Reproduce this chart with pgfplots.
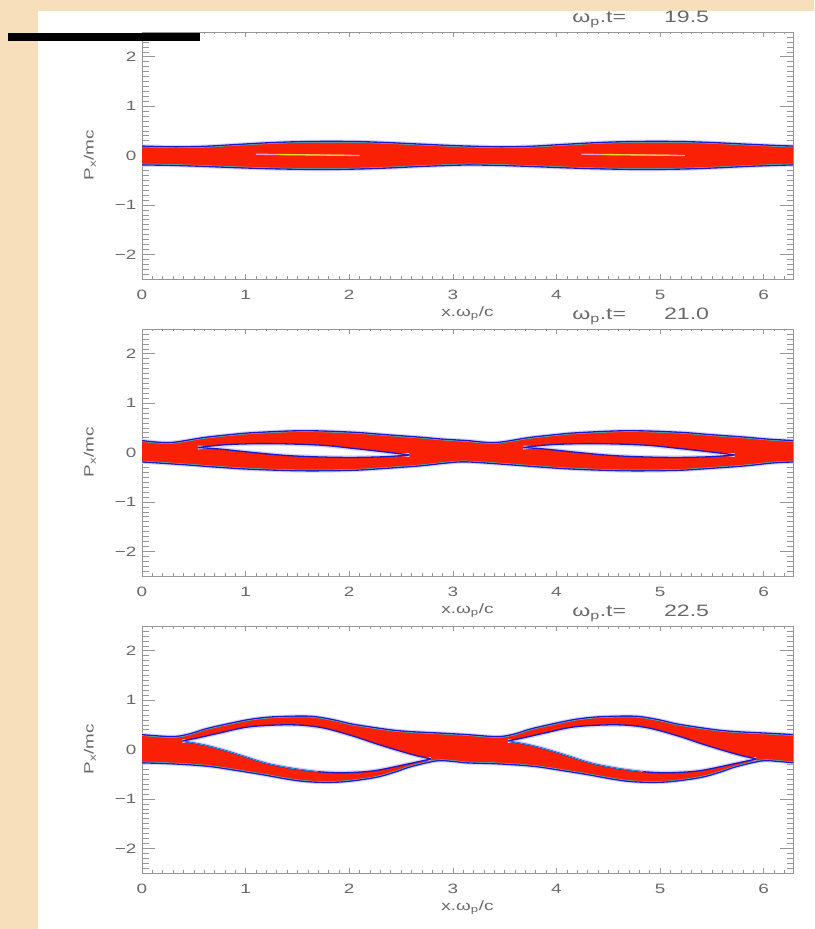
\documentclass[border=0pt]{standalone}
\usepackage{fontspec}
\setmainfont{Liberation Sans}[FakeStretch=1.4]
\usepackage{pgfplots}
\pgfplotsset{compat=1.18}
\usepackage{pgfplotstable}
\usepgfplotslibrary{fillbetween}

\definecolor{bgbeige}{RGB}{246,223,186}
\definecolor{idlred}{RGB}{250,32,5}
\definecolor{idlblue}{RGB}{25,25,205}
\definecolor{idlcyan}{RGB}{40,200,215}
\definecolor{idlhalo}{RGB}{218,208,243}
\definecolor{txtgray}{RGB}{105,105,105}
\definecolor{axgray}{RGB}{150,150,150}

% ---------------- panel 1 (t = 19.5) ----------------
\pgfplotstableread{
x y
0.00 0.190
0.30 0.175
0.60 0.185
0.90 0.220
1.20 0.255
1.50 0.278
1.80 0.285
2.10 0.280
2.40 0.258
2.70 0.228
3.00 0.200
3.14 0.190
3.44 0.175
3.74 0.185
4.04 0.220
4.34 0.255
4.64 0.278
4.94 0.285
5.24 0.280
5.54 0.258
5.84 0.228
6.14 0.200
6.29 0.190
}\UA
\pgfplotstableread{
x y
0.00 -0.190
0.30 -0.200
0.60 -0.220
0.90 -0.245
1.20 -0.265
1.50 -0.278
1.80 -0.282
2.10 -0.272
2.40 -0.250
2.70 -0.220
3.00 -0.198
3.14 -0.190
3.44 -0.200
3.74 -0.220
4.04 -0.245
4.34 -0.265
4.64 -0.278
4.94 -0.282
5.24 -0.272
5.54 -0.250
5.84 -0.220
6.14 -0.198
6.29 -0.190
}\LA

% ---------------- panel 2 (t = 21.0) ----------------
\pgfplotstableread{
x y
0.00 0.24
0.27 0.20
0.59 0.30
0.85 0.36
1.07 0.40
1.55 0.44
2.03 0.41
2.35 0.36
2.68 0.31
2.90 0.27
3.14 0.24
3.41 0.20
3.73 0.30
3.99 0.36
4.21 0.40
4.69 0.44
5.17 0.41
5.49 0.36
5.82 0.31
6.04 0.27
6.29 0.24
}\UB
\pgfplotstableread{
x y
0.00 -0.19
0.43 -0.25
0.75 -0.30
1.07 -0.34
1.55 -0.37
2.03 -0.36
2.35 -0.32
2.68 -0.27
2.95 -0.21
3.14 -0.19
3.57 -0.25
3.89 -0.30
4.21 -0.34
4.69 -0.37
5.17 -0.36
5.49 -0.32
5.82 -0.27
6.09 -0.21
6.29 -0.19
}\LB
\pgfplotstableread{
x y
0.54 0.10
0.82 0.16
1.23 0.18
1.71 0.15
2.03 0.085
2.35 0.01
2.58 -0.05
}\htBi
\pgfplotstableread{
x y
0.54 0.10
0.75 0.07
1.07 0.00
1.39 -0.06
1.71 -0.09
2.03 -0.10
2.35 -0.085
2.58 -0.05
}\hbBi
\pgfplotstableread{
x y
3.68 0.10
3.96 0.16
4.37 0.18
4.85 0.15
5.17 0.085
5.49 0.01
5.72 -0.05
}\htBii
\pgfplotstableread{
x y
3.68 0.10
3.89 0.07
4.21 0.00
4.53 -0.06
4.85 -0.09
5.17 -0.10
5.49 -0.085
5.72 -0.05
}\hbBii

% ---------------- panel 3 (t = 22.5) ----------------
\pgfplotstableread{
x y
0.00 0.30
0.29 0.26
0.45 0.31
0.64 0.43
0.99 0.59
1.20 0.65
1.39 0.67
1.64 0.67
1.85 0.60
2.04 0.51
2.39 0.40
2.60 0.36
2.89 0.33
3.14 0.30
3.43 0.26
3.59 0.31
3.78 0.43
4.13 0.59
4.34 0.65
4.53 0.67
4.78 0.67
4.99 0.60
5.18 0.51
5.53 0.40
5.74 0.36
6.03 0.33
6.29 0.30
}\UC
\pgfplotstableread{
x y
0.00 -0.27
0.30 -0.29
0.64 -0.34
0.90 -0.42
1.14 -0.50
1.54 -0.64
1.89 -0.66
2.24 -0.57
2.45 -0.45
2.59 -0.35
2.84 -0.23
3.00 -0.24
3.14 -0.27
3.44 -0.29
3.78 -0.34
4.04 -0.42
4.28 -0.50
4.68 -0.64
5.03 -0.66
5.38 -0.57
5.59 -0.45
5.73 -0.35
5.98 -0.23
6.14 -0.24
6.29 -0.27
}\LC
\pgfplotstableread{
x y
0.39 0.17
0.55 0.24
0.74 0.33
1.04 0.46
1.44 0.50
1.74 0.44
2.04 0.27
2.24 0.13
2.44 0.00
2.64 -0.12
2.79 -0.19
}\htCi
\pgfplotstableread{
x y
0.39 0.17
0.60 0.09
0.80 -0.02
1.00 -0.15
1.20 -0.28
1.44 -0.38
1.70 -0.45
1.95 -0.47
2.24 -0.43
2.55 -0.30
2.79 -0.19
}\hbCi
\pgfplotstableread{
x y
3.53 0.17
3.69 0.24
3.88 0.33
4.18 0.46
4.58 0.50
4.88 0.44
5.18 0.27
5.38 0.13
5.58 0.00
5.78 -0.12
5.93 -0.19
}\htCii
\pgfplotstableread{
x y
3.53 0.17
3.74 0.09
3.94 -0.02
4.14 -0.15
4.34 -0.28
4.58 -0.38
4.84 -0.45
5.09 -0.47
5.38 -0.43
5.69 -0.30
5.93 -0.19
}\hbCii

\pgfplotsset{
  idlpanel/.style={
    scale only axis, width=651pt, height=247pt,
    xmin=0, xmax=6.2832, ymin=-2.5, ymax=2.5,
    xtick={0,1,2,3,4,5,6}, ytick={-2,-1,0,1,2},
    xticklabels={0,1,2,3,4,5,6},
    yticklabels={−2,−1,0,1,2},
    minor xtick={0.1,0.2,...,6.25},
    minor ytick={-2.4,-2.3,...,2.45},
    axis line style={axgray, line width=0.6pt},
    tick style={axgray, line width=0.5pt},
    xtick style={/pgfplots/major tick length=5pt, /pgfplots/minor tick length=2.5pt},
    ytick style={/pgfplots/major tick length=13pt, /pgfplots/minor tick length=6.5pt},
    tick label style={font=\fontsize{13.5}{15}\selectfont, text=txtgray},
    xticklabel style={yshift=-8pt},
    yticklabel style={xshift=-2pt},
    label style={font=\fontsize{13.5}{15}\selectfont, text=txtgray},
    xlabel={x.ω\textsubscript{p}/c},
    ylabel={P\textsubscript{x}/mc},
    xlabel style={at={(axis description cs:0.5,-0.14)}, anchor=center},
    ylabel style={at={(axis description cs:-0.08,0.5)}, anchor=center},
    title style={at={(axis description cs:0.766,1.026)}, anchor=center,
      font=\fontsize{16.5}{18}\selectfont, text=txtgray},
  },
  sm/.style={smooth, tension=0.55},
}

\newcommand\drawband[2]{%
  \addplot[name path=U, draw=none, sm] table {#1};
  \addplot[name path=L, draw=none, sm] table {#2};
  \addplot[idlred] fill between[of=U and L];
}
\newcommand\drawhole[2]{%
  \addplot[name path=HT, draw=none, sm] table {#1};
  \addplot[name path=HB, draw=none, sm] table {#2};
  \addplot[white] fill between[of=HT and HB];
}
\newcommand\holelines[2]{%
  \addplot[idlhalo, line width=2.0pt, yshift=-1.0pt, sm] table {#1};
  \addplot[idlhalo, line width=2.0pt, yshift=1.0pt, sm] table {#2};
  \addplot[idlblue, line width=1.3pt, sm] table {#1};
  \addplot[idlblue, line width=1.3pt, sm] table {#2};
}
\newcommand\drawedges[2]{%
  \addplot[idlhalo, line width=1.5pt, yshift=1.1pt, sm] table {#1};
  \addplot[idlhalo, line width=1.5pt, yshift=-1.1pt, sm] table {#2};
  \addplot[idlblue, line width=1.4pt, sm] table {#1};
  \addplot[idlblue, line width=1.4pt, sm] table {#2};
  \addplot[idlcyan, line width=0.5pt, yshift=-0.9pt, sm] table {#1};
  \addplot[idlcyan, line width=0.5pt, yshift=0.9pt, sm] table {#2};
}

\begin{document}
\begin{tikzpicture}[x=1pt,y=1pt]
\path (0,0) rectangle (814,929);
\fill[bgbeige] (0,0) rectangle (38,929);
\fill[bgbeige] (38,918) rectangle (814,929);

% panel 1
\begin{axis}[idlpanel, at={(142pt,650pt)}, anchor=south west,
  title={ω\textsubscript{p}.t=\hspace{2.3em}19.5}]
  \drawband{\UA}{\LA}
  \drawedges{\UA}{\LA}
  \addplot[magenta!40, line width=1.3pt] coordinates {(1.10,0.025) (2.10,0.000)};
  \addplot[yellow!85!green, line width=0.9pt] coordinates {(1.30,0.020) (1.95,0.006)};
  \addplot[magenta!40, line width=1.3pt] coordinates {(4.24,0.025) (5.24,0.000)};
  \addplot[yellow!85!green, line width=0.9pt] coordinates {(4.44,0.020) (5.09,0.006)};
\end{axis}

% panel 2
\begin{axis}[idlpanel, at={(142pt,353pt)}, anchor=south west,
  title={ω\textsubscript{p}.t=\hspace{2.3em}21.0}]
  \drawband{\UB}{\LB}
  \drawhole{\htBi}{\hbBi}
  \drawhole{\htBii}{\hbBii}
  \holelines{\htBi}{\hbBi}
  \holelines{\htBii}{\hbBii}
  \drawedges{\UB}{\LB}
\end{axis}

% panel 3
\begin{axis}[idlpanel, at={(142pt,56pt)}, anchor=south west,
  title={ω\textsubscript{p}.t=\hspace{2.3em}22.5}]
  \drawband{\UC}{\LC}
  \drawhole{\htCi}{\hbCi}
  \drawhole{\htCii}{\hbCii}
  \holelines{\htCi}{\hbCi}
  \holelines{\htCii}{\hbCii}
  \addplot[idlcyan, line width=0.6pt, sm, restrict x to domain=0.39:1.8] table {\hbCi};
  \addplot[idlcyan, line width=0.6pt, sm, restrict x to domain=3.53:4.95] table {\hbCii};
  \drawedges{\UC}{\LC}
\end{axis}

\fill[black] (8,888) rectangle (200,896);
\end{tikzpicture}
\end{document}
